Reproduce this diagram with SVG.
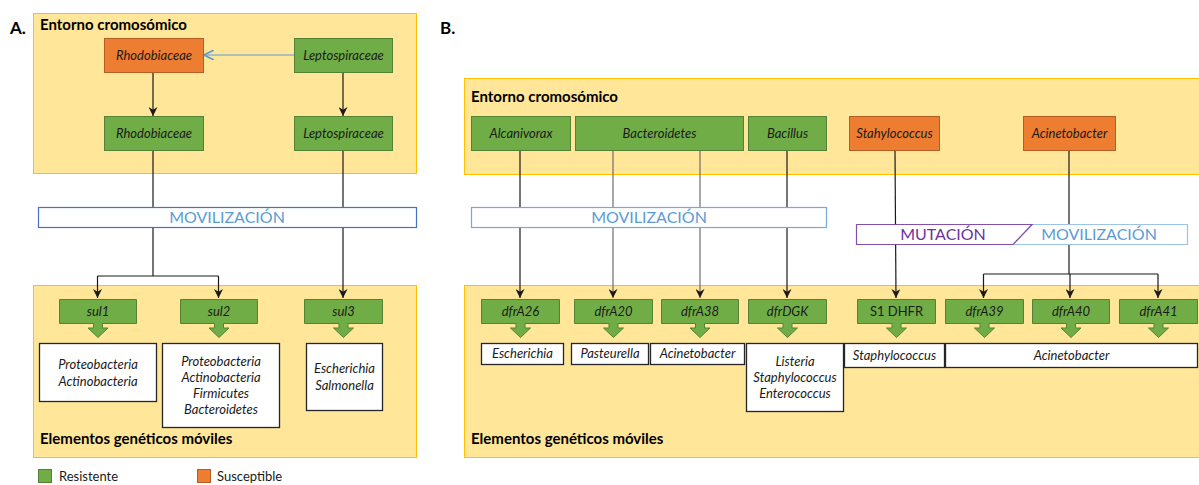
<svg xmlns="http://www.w3.org/2000/svg" width="1199" height="485" viewBox="0 0 1199 485">
<style>
.env{fill:#ffe699;stroke:#ffc000;stroke-width:1}
.g{fill:#70ad47;stroke:#548235;stroke-width:1}
.o{fill:#ed7d31;stroke:#b55d22;stroke-width:1}
.wb{fill:#ffffff;stroke:#262626;stroke-width:1.3}
.lbl{font-family:Lato,"Open Sans",sans-serif;font-style:italic;font-size:13px;fill:#1a1a1a;text-anchor:middle}
.up{font-family:Lato,"Open Sans",sans-serif;font-size:13px;fill:#1a1a1a;text-anchor:middle}
.ttl{font-family:Lato,"Open Sans",sans-serif;font-weight:bold;font-size:15px;fill:#000}
.pn{font-family:Lato,"Open Sans",sans-serif;font-weight:bold;font-size:17px;fill:#000}
.mv{font-family:Lato,"Open Sans",sans-serif;font-size:16px;fill:#5b9bd5;text-anchor:middle}
.mu{font-family:Lato,"Open Sans",sans-serif;font-size:16px;fill:#7030a0;text-anchor:middle}
.leg{font-family:Lato,"Open Sans",sans-serif;font-size:13px;fill:#1a1a1a}
.ln{fill:none;stroke:#1a1a1a;stroke-width:1.2}
.lg{fill:none;stroke:#6e6e6e;stroke-width:1.2}
</style>
<defs>
<marker id="ah" viewBox="0 0 10 10" refX="10" refY="5" markerWidth="9" markerHeight="9" markerUnits="userSpaceOnUse" orient="auto">
<path d="M0,0 L10,5 L0,10 L3,5 Z" fill="#1a1a1a"/>
</marker>
<marker id="ahb" viewBox="0 0 10 10" refX="10" refY="5" markerWidth="10" markerHeight="10" markerUnits="userSpaceOnUse" orient="auto">
<path d="M0,0 L10,5 L0,10" fill="none" stroke="#5b9bd5" stroke-width="1.6"/>
</marker>
</defs>

<!-- containers -->
<g id="containers">
<rect class="env" x="33.5" y="13.5" width="383" height="160"/>
<rect class="env" x="33.5" y="285.5" width="383" height="172"/>
<rect class="env" x="464.5" y="78.5" width="740" height="96"/>
<rect class="env" x="464.5" y="285.5" width="740" height="172"/>
</g>

<text class="pn" x="10" y="34">A.</text>
<text class="pn" x="440" y="34">B.</text>
<text class="ttl" x="40" y="30">Entorno cromosómico</text>
<text class="ttl" x="40" y="444">Elementos genéticos móviles</text>
<text class="ttl" x="471" y="102">Entorno cromosómico</text>
<text class="ttl" x="471" y="444">Elementos genéticos móviles</text>

<!-- connectors -->
<g id="connectors">
<line x1="294" y1="55" x2="204" y2="55" stroke="#5b9bd5" stroke-width="1.2" marker-end="url(#ahb)"/>
<line class="ln" x1="153" y1="72" x2="153" y2="116" marker-end="url(#ah)"/>
<line class="ln" x1="343" y1="72" x2="343" y2="116" marker-end="url(#ah)"/>
<line class="ln" x1="153" y1="150" x2="153" y2="276"/>
<line class="ln" x1="97.5" y1="276" x2="218.5" y2="276"/>
<line class="ln" x1="97.5" y1="276" x2="97.5" y2="298" marker-end="url(#ah)"/>
<line class="ln" x1="218.5" y1="276" x2="218.5" y2="298" marker-end="url(#ah)"/>
<line class="ln" x1="343" y1="150" x2="343" y2="298" marker-end="url(#ah)"/>

<line class="ln" x1="520" y1="150" x2="520" y2="298" marker-end="url(#ah)"/>
<line class="lg" x1="613" y1="150" x2="613" y2="298" marker-end="url(#ah)"/>
<line class="lg" x1="700" y1="150" x2="700" y2="298" marker-end="url(#ah)"/>
<line class="ln" x1="787" y1="150" x2="787" y2="298" marker-end="url(#ah)"/>
<line class="ln" x1="895" y1="150" x2="896" y2="298" marker-end="url(#ah)"/>
<line class="ln" x1="1069" y1="150" x2="1069" y2="274"/>
<line class="ln" x1="983.5" y1="274" x2="1158" y2="274"/>
<line class="ln" x1="983.5" y1="274" x2="983.5" y2="298" marker-end="url(#ah)"/>
<line class="ln" x1="1070" y1="274" x2="1070" y2="298" marker-end="url(#ah)"/>
<line class="ln" x1="1158" y1="274" x2="1158" y2="298" marker-end="url(#ah)"/>
</g>

<!-- panel A nodes -->
<g id="a-rhodo-s"><rect class="o" x="104.5" y="38.5" width="99" height="34"/><text class="lbl" x="154" y="60">Rhodobiaceae</text></g>
<g id="a-lepto-1"><rect class="g" x="294.5" y="38.5" width="98" height="34"/><text class="lbl" x="343.5" y="60">Leptospiraceae</text></g>
<g id="a-rhodo-r"><rect class="g" x="104.5" y="116.5" width="99" height="34"/><text class="lbl" x="154" y="138">Rhodobiaceae</text></g>
<g id="a-lepto-2"><rect class="g" x="294.5" y="116.5" width="98" height="34"/><text class="lbl" x="343.5" y="138">Leptospiraceae</text></g>
<g id="a-movil"><rect x="38.5" y="207.5" width="378" height="20" fill="#fff" stroke="#4472c4" stroke-width="1.2"/><text class="mv" x="227" y="223">MOVILIZACIÓN</text></g>

<g id="a-sul1"><path class="g" d="M59.5,299.5 H136.5 V323.5 H102.5 V328 H108 L98,337.5 L88,328 H93.5 V323.5 H59.5 Z"/><text class="lbl" x="98" y="316">sul1</text></g>
<g id="a-sul2"><path class="g" d="M180.5,299.5 H257.5 V323.5 H223.5 V328 H229 L219,337.5 L209,328 H214.5 V323.5 H180.5 Z"/><text class="lbl" x="219" y="316">sul2</text></g>
<g id="a-sul3"><path class="g" d="M304.5,299.5 H382.5 V323.5 H348 V328 H353.5 L343.5,337.5 L333.5,328 H339 V323.5 H304.5 Z"/><text class="lbl" x="343.5" y="316">sul3</text></g>

<g id="a-box1"><rect class="wb" x="39.5" y="343.5" width="117" height="58"/><text class="lbl" x="98" y="369">Proteobacteria</text><text class="lbl" x="98" y="386">Actinobacteria</text></g>
<g id="a-box2"><rect class="wb" x="162.5" y="343.5" width="117" height="84"/><text class="lbl" x="221" y="366">Proteobacteria</text><text class="lbl" x="221" y="382">Actinobacteria</text><text class="lbl" x="221" y="398">Firmicutes</text><text class="lbl" x="221" y="414">Bacteroidetes</text></g>
<g id="a-box3"><rect class="wb" x="306.5" y="343.5" width="76" height="67"/><text class="lbl" x="344.5" y="373">Escherichia</text><text class="lbl" x="344.5" y="390">Salmonella</text></g>

<!-- legend -->
<g id="legend">
<rect x="38.5" y="469.5" width="13" height="13" fill="#70ad47" stroke="#548235"/>
<text class="leg" x="59" y="481">Resistente</text>
<rect x="197.5" y="469.5" width="13" height="13" fill="#ed7d31" stroke="#b55d22"/>
<text class="leg" x="217" y="481">Susceptible</text>
</g>

<!-- panel B nodes -->
<g id="b-alcan"><rect class="g" x="471.5" y="116.5" width="99" height="34"/><text class="lbl" x="521" y="138">Alcanivorax</text></g>
<g id="b-bacter"><rect class="g" x="575.5" y="116.5" width="168" height="34"/><text class="lbl" x="659.5" y="138">Bacteroidetes</text></g>
<g id="b-bacil"><rect class="g" x="748.5" y="116.5" width="78" height="34"/><text class="lbl" x="787.5" y="138">Bacillus</text></g>
<g id="b-staph"><rect class="o" x="849.5" y="116.5" width="90" height="34"/><text class="lbl" x="894.5" y="138">Stahylococcus</text></g>
<g id="b-acin"><rect class="o" x="1023.5" y="116.5" width="92" height="34"/><text class="lbl" x="1069.5" y="138">Acinetobacter</text></g>

<g id="b-movil"><rect x="471.5" y="207.5" width="355" height="20" fill="#fff" stroke="#7aa6dc" stroke-width="1.2"/><text class="mv" x="649" y="223">MOVILIZACIÓN</text></g>
<g id="b-mut-movil">
<path d="M1032,224.5 H1187.5 V244.5 H1013 Z" fill="#fff" stroke="#9dc3e6" stroke-width="1.2"/>
<path d="M856.5,224.5 H1032 L1013,244.5 H856.5 Z" fill="#fff" stroke="#7030a0" stroke-width="1.2" stroke-opacity="0.85"/>
<text class="mu" x="943" y="240">MUTACIÓN</text>
<text class="mv" x="1099" y="240">MOVILIZACIÓN</text>
</g>

<g id="b-dfrA26"><path class="g" d="M481.5,299.5 H559.5 V323.5 H525 V328 H530.5 L520.5,337.5 L510.5,328 H516 V323.5 H481.5 Z"/><text class="lbl" x="520.5" y="316">dfrA26</text></g>
<g id="b-dfrA20"><path class="g" d="M574.5,299.5 H652.5 V323.5 H618 V328 H623.5 L613.5,337.5 L603.5,328 H609 V323.5 H574.5 Z"/><text class="lbl" x="613.5" y="316">dfrA20</text></g>
<g id="b-dfrA38"><path class="g" d="M661.5,299.5 H738.5 V323.5 H704.5 V328 H710 L700,337.5 L690,328 H695.5 V323.5 H661.5 Z"/><text class="lbl" x="700" y="316">dfrA38</text></g>
<g id="b-dfrDGK"><path class="g" d="M748.5,299.5 H826.5 V323.5 H792 V328 H797.5 L787.5,337.5 L777.5,328 H783 V323.5 H748.5 Z"/><text class="lbl" x="787.5" y="316">dfrDGK</text></g>
<g id="b-s1dhfr"><path class="g" d="M857.5,299.5 H935.5 V323.5 H901 V328 H906.5 L896.5,337.5 L886.5,328 H892 V323.5 H857.5 Z"/><text class="up" x="896.5" y="316">S1 DHFR</text></g>
<g id="b-dfrA39"><path class="g" d="M945.5,299.5 H1023.5 V323.5 H989 V328 H994.5 L984.5,337.5 L974.5,328 H980 V323.5 H945.5 Z"/><text class="lbl" x="984.5" y="316">dfrA39</text></g>
<g id="b-dfrA40"><path class="g" d="M1032.5,299.5 H1109.5 V323.5 H1075.5 V328 H1081 L1071,337.5 L1061,328 H1066.5 V323.5 H1032.5 Z"/><text class="lbl" x="1071" y="316">dfrA40</text></g>
<g id="b-dfrA41"><path class="g" d="M1119.5,299.5 H1197.5 V323.5 H1163 V328 H1168.5 L1158.5,337.5 L1148.5,328 H1154 V323.5 H1119.5 Z"/><text class="lbl" x="1158.5" y="316">dfrA41</text></g>

<g id="b-box-esch"><rect class="wb" x="481.5" y="343.5" width="82" height="21"/><text class="lbl" x="522.5" y="358">Escherichia</text></g>
<g id="b-box-past"><rect class="wb" x="571.5" y="343.5" width="77" height="21"/><text class="lbl" x="610" y="358">Pasteurella</text></g>
<g id="b-box-acin1"><rect class="wb" x="650.5" y="343.5" width="94" height="21"/><text class="lbl" x="697.5" y="358">Acinetobacter</text></g>
<g id="b-box-list"><rect class="wb" x="746.5" y="343.5" width="97" height="68"/><text class="lbl" x="795" y="366">Listeria</text><text class="lbl" x="795" y="382">Staphylococcus</text><text class="lbl" x="795" y="398">Enterococcus</text></g>
<g id="b-box-staph"><rect class="wb" x="844.5" y="343.5" width="100" height="24"/><text class="lbl" x="894.5" y="360">Staphylococcus</text></g>
<g id="b-box-acin2"><rect class="wb" x="945.5" y="343.5" width="252" height="24"/><text class="lbl" x="1071.5" y="360">Acinetobacter</text></g>
</svg>
